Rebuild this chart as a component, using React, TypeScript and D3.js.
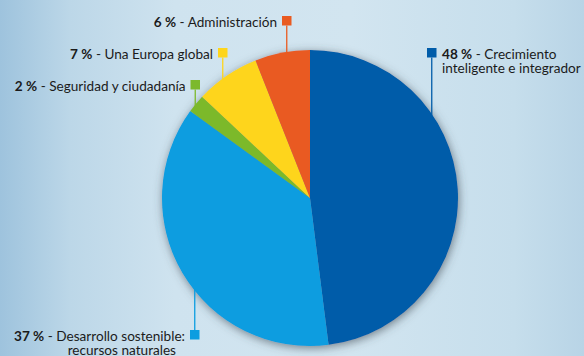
import React from "react";
import * as d3 from "d3";

// ---- data ----
const categories = [
  "Crecimiento inteligente e integrador",
  "Desarrollo sostenible: recursos naturales",
  "Seguridad y ciudadanía",
  "Una Europa global",
  "Administración",
];
const values = [48, 37, 2, 7, 6];
const colors = ["#005ca9", "#0b9de0", "#7cb92c", "#fed51b", "#e95a20"];
const labelLines = [
  ["Crecimiento", "inteligente e integrador"],
  ["Desarrollo sostenible:", "recursos naturales"],
  ["Seguridad y ciudadanía"],
  ["Una Europa global"],
  ["Administración"],
];

// ---- layout ----
const W = 584;
const H = 356;
const cx = 310;
const cy = 198;
const R = 148;
const SQ = 9.5;
const FONT = "Lato, 'Open Sans', sans-serif";
const FS = 13.6;
const LH = 14.5;

type Lay = { sx: number; sy: number; side: "left" | "right"; dir: "up" | "down"; dx2: number };
const layout: Lay[] = [
  { sx: 427, sy: 48, side: "right", dir: "down", dx2: 0 },
  { sx: 190, sy: 330, side: "left", dir: "up", dx2: -9 },
  { sx: 190.5, sy: 80, side: "left", dir: "down", dx2: 0 },
  { sx: 218, sy: 48, side: "left", dir: "down", dx2: 0 },
  { sx: 282, sy: 16, side: "left", dir: "down", dx2: 0 },
];

export default function App() {
  const pie = d3
    .pie<number>()
    .sort(null)
    .value((d) => d)
    .startAngle(0)
    .endAngle(2 * Math.PI);
  const arcs = pie(values);
  const arc = d3.arc<d3.PieArcDatum<number>>().innerRadius(0).outerRadius(R);

  return (
    <svg
      width={W}
      height={H}
      viewBox={`0 0 ${W} ${H}`}
      style={{ position: "absolute", left: 0, top: 0, display: "block" }}
    >
      <defs>
        <linearGradient id="bg" x1="0" x2="1" y1="0" y2="0">
          <stop offset="0" stopColor="#9ec3dd" />
          <stop offset="0.12" stopColor="#bcd7e8" />
          <stop offset="0.3" stopColor="#cfe3ef" />
          <stop offset="0.6" stopColor="#d2e5f0" />
          <stop offset="0.88" stopColor="#c6deec" />
          <stop offset="1" stopColor="#b8d4e6" />
        </linearGradient>
        <filter id="shadow" x="-20%" y="-20%" width="140%" height="140%">
          <feDropShadow dx="1" dy="2" stdDeviation="5" floodColor="#3c4a52" floodOpacity="0.65" />
        </filter>
      </defs>
      <rect x={0} y={0} width={W} height={H} fill="url(#bg)" />

      <g transform={`translate(${cx},${cy})`} filter="url(#shadow)">
        {arcs.map((a, i) => (
          <path key={categories[i]} d={arc(a) || ""} fill={colors[i]} />
        ))}
      </g>

      {arcs.map((a, i) => {
        const L = layout[i];
        const lx = L.sx + SQ / 2;
        const ddx = lx - cx;
        const half = Math.sqrt(Math.max(0, R * R - ddx * ddx));
        const y1 = L.dir === "down" ? L.sy + SQ : L.sy;
        const y2 = L.dir === "down" ? cy - half + 2 : cy + half - 2;
        const base = L.sy + 10.5;
        const tx = L.side === "left" ? L.sx - 5 : L.sx + SQ + 5.5;
        const anchor = L.side === "left" ? "end" : "start";
        const lines = labelLines[i];
        return (
          <g key={"lab" + i}>
            <line x1={lx} x2={lx} y1={y1} y2={y2} stroke={colors[i]} strokeWidth={1.3} />
            <rect x={L.sx} y={L.sy} width={SQ} height={SQ} fill={colors[i]} />
            <text
              x={tx}
              y={base}
              textAnchor={anchor}
              fontFamily={FONT}
              fontSize={FS}
              fill="#1b1b1b"
            >
              <tspan fontWeight={700}>{`${a.data} %`}</tspan>
              <tspan>{` - ${lines[0]}`}</tspan>
            </text>
            {lines.slice(1).map((ln, k) => (
              <text
                key={k}
                x={tx + L.dx2}
                y={base + LH * (k + 1)}
                textAnchor={anchor}
                fontFamily={FONT}
                fontSize={FS}
                fill="#1b1b1b"
              >
                {ln}
              </text>
            ))}
          </g>
        );
      })}
    </svg>
  );
}
